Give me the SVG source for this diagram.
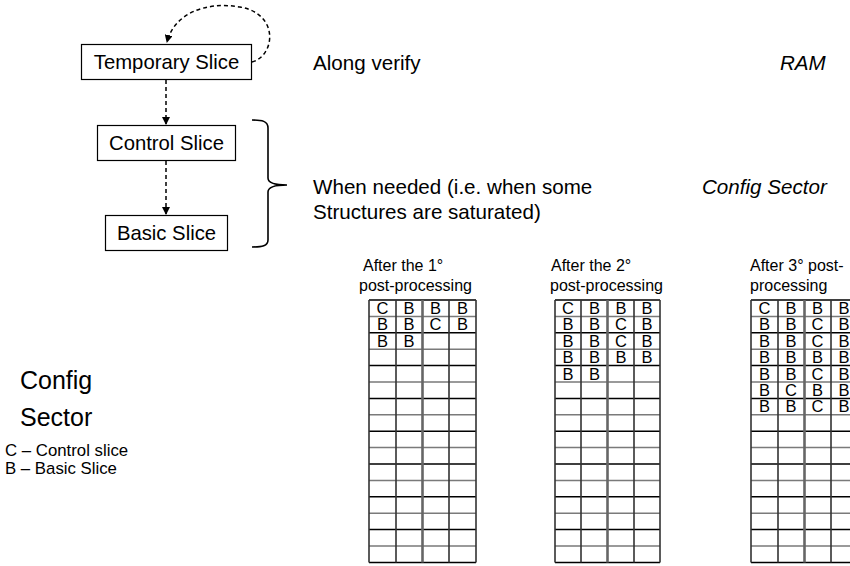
<svg xmlns="http://www.w3.org/2000/svg" width="850" height="566" viewBox="0 0 850 566">
<style>
text{font-family:"Liberation Sans",Arial,Helvetica,sans-serif;fill:#000}
.node rect{fill:#fff;stroke:#000;stroke-width:1.2}
.nl{font-size:20.3px;text-anchor:middle}
.big{font-size:20.6px}
.it{font-style:italic}
.hd{font-size:16px}
.cell{font-size:16.5px;text-anchor:middle}
.hk{fill:none;stroke:#000;stroke-width:1.5}
.hg{fill:none;stroke:#7a7a7a;stroke-width:1.5}
.vk{fill:none;stroke:#333;stroke-width:1.6}
.vm{fill:none;stroke:#666;stroke-width:2.6}
.conn{fill:none;stroke:#000;stroke-width:1.5;stroke-dasharray:4 3}
</style>
<defs>
<marker id="ah" markerWidth="8" markerHeight="8" refX="7" refY="4" orient="auto" markerUnits="userSpaceOnUse">
<path d="M0,0 L8,4 L0,8 Z" fill="#000"/>
</marker>
</defs>

<g id="connectors">
<path class="conn" d="M166,80 V124" marker-end="url(#ah)"/>
<path class="conn" d="M166,161 V214" marker-end="url(#ah)"/>
<path class="conn" d="M252,62 C275,56 280,14 240,7 C205,1 174,14 167,42" marker-end="url(#ah)"/>
</g>

<g id="temporary-slice" class="node">
<rect x="81.5" y="44.5" width="170" height="35"/>
<text class="nl" x="166.5" y="69">Temporary Slice</text>
</g>
<g id="control-slice" class="node">
<rect x="97.5" y="125.5" width="138" height="35"/>
<text class="nl" x="166.5" y="150">Control Slice</text>
</g>
<g id="basic-slice" class="node">
<rect x="105.5" y="215.5" width="122" height="35"/>
<text class="nl" x="166.5" y="240">Basic Slice</text>
</g>

<g id="brace">
<path d="M252,120 C262,120 268,121 268,128 V178 C268,183 274,185 287,185 C274,185 268,187 268,192 V240 C268,246 262,247 252,247" fill="none" stroke="#000" stroke-width="1.6"/>
</g>

<g id="labels">
<text class="big" x="313" y="70">Along verify</text>
<text class="big it" x="780" y="70">RAM</text>
<text class="big" x="313" y="194">When needed (i.e. when some</text>
<text class="big" x="313" y="219">Structures are saturated)</text>
<text class="big it" x="702" y="194" font-size="21.5">Config Sector</text>
<text x="20" y="389" font-size="25">Config</text>
<text x="20" y="426" font-size="25">Sector</text>
<text x="5" y="456" font-size="16.8">C – Control slice</text>
<text x="5" y="474" font-size="16.8">B – Basic Slice</text>
</g>

<g id="table-1">
<text class="hd" x="363" y="271">After the 1°</text>
<text class="hd" x="359" y="291">post-processing</text>
<path class="hk" d="M369,300H476M369,332.8H476M369,365.6H476M369,398.4H476M369,431.2H476M369,464H476M369,496.8H476M369,529.6H476M369,562.4H476"/>
<path class="hg" d="M369,316.4H476M369,349.2H476M369,382H476M369,414.8H476M369,447.6H476M369,480.4H476M369,513.2H476M369,546H476"/>
<path class="vk" d="M369,300V562.4M396,300V562.4M449,300V562.4M476,300V562.4"/>
<path class="vm" d="M422.5,300V562.4"/>
<text class="cell" x="382.5" y="314">C</text><text class="cell" x="409" y="314">B</text><text class="cell" x="435.5" y="314">B</text><text class="cell" x="462.5" y="314">B</text>
<text class="cell" x="382.5" y="330.4">B</text><text class="cell" x="409" y="330.4">B</text><text class="cell" x="435.5" y="330.4">C</text><text class="cell" x="462.5" y="330.4">B</text>
<text class="cell" x="382.5" y="346.8">B</text><text class="cell" x="409" y="346.8">B</text>
</g>

<g id="table-2">
<text class="hd" x="551" y="271">After the 2°</text>
<text class="hd" x="550" y="291">post-processing</text>
<path class="hk" d="M555,300H660M555,332.8H660M555,365.6H660M555,398.4H660M555,431.2H660M555,464H660M555,496.8H660M555,529.6H660M555,562.4H660"/>
<path class="hg" d="M555,316.4H660M555,349.2H660M555,382H660M555,414.8H660M555,447.6H660M555,480.4H660M555,513.2H660M555,546H660"/>
<path class="vk" d="M555,300V562.4M581,300V562.4M634,300V562.4M660,300V562.4"/>
<path class="vm" d="M607.5,300V562.4"/>
<text class="cell" x="568" y="314">C</text><text class="cell" x="594.5" y="314">B</text><text class="cell" x="621" y="314">B</text><text class="cell" x="647" y="314">B</text>
<text class="cell" x="568" y="330.4">B</text><text class="cell" x="594.5" y="330.4">B</text><text class="cell" x="621" y="330.4">C</text><text class="cell" x="647" y="330.4">B</text>
<text class="cell" x="568" y="346.8">B</text><text class="cell" x="594.5" y="346.8">B</text><text class="cell" x="621" y="346.8">C</text><text class="cell" x="647" y="346.8">B</text>
<text class="cell" x="568" y="363.2">B</text><text class="cell" x="594.5" y="363.2">B</text><text class="cell" x="621" y="363.2">B</text><text class="cell" x="647" y="363.2">B</text>
<text class="cell" x="568" y="379.6">B</text><text class="cell" x="594.5" y="379.6">B</text>
</g>

<g id="table-3">
<text class="hd" x="750" y="271">After 3° post-</text>
<text class="hd" x="750" y="291">processing</text>
<path class="hk" d="M751,300H858M751,332.8H858M751,365.6H858M751,398.4H858M751,431.2H858M751,464H858M751,496.8H858M751,529.6H858M751,562.4H858"/>
<path class="hg" d="M751,316.4H858M751,349.2H858M751,382H858M751,414.8H858M751,447.6H858M751,480.4H858M751,513.2H858M751,546H858"/>
<path class="vk" d="M751,300V562.4M778,300V562.4M831,300V562.4"/>
<path class="vm" d="M804.5,300V562.4"/>
<text class="cell" x="764.5" y="314">C</text><text class="cell" x="791" y="314">B</text><text class="cell" x="817.5" y="314">B</text><text class="cell" x="844" y="314">B</text>
<text class="cell" x="764.5" y="330.4">B</text><text class="cell" x="791" y="330.4">B</text><text class="cell" x="817.5" y="330.4">C</text><text class="cell" x="844" y="330.4">B</text>
<text class="cell" x="764.5" y="346.8">B</text><text class="cell" x="791" y="346.8">B</text><text class="cell" x="817.5" y="346.8">C</text><text class="cell" x="844" y="346.8">B</text>
<text class="cell" x="764.5" y="363.2">B</text><text class="cell" x="791" y="363.2">B</text><text class="cell" x="817.5" y="363.2">B</text><text class="cell" x="844" y="363.2">B</text>
<text class="cell" x="764.5" y="379.6">B</text><text class="cell" x="791" y="379.6">B</text><text class="cell" x="817.5" y="379.6">C</text><text class="cell" x="844" y="379.6">B</text>
<text class="cell" x="764.5" y="396">B</text><text class="cell" x="791" y="396">C</text><text class="cell" x="817.5" y="396">B</text><text class="cell" x="844" y="396">B</text>
<text class="cell" x="764.5" y="412.4">B</text><text class="cell" x="791" y="412.4">B</text><text class="cell" x="817.5" y="412.4">C</text><text class="cell" x="844" y="412.4">B</text>
</g>
</svg>
